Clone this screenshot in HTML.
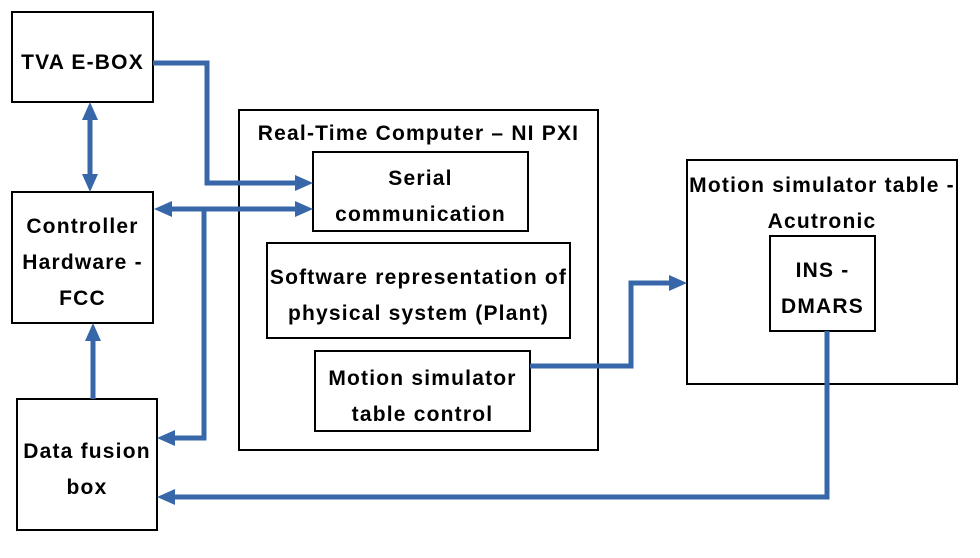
<!DOCTYPE html>
<html><head><style>
body{margin:0;background:#fff;width:980px;height:558px;position:relative;overflow:hidden;font-family:"Liberation Sans",Arial,sans-serif;font-weight:bold;font-size:21px;letter-spacing:1.2px;color:#000}
.b{position:absolute;border:2px solid #000;box-sizing:border-box;background:#fff;display:flex;align-items:center;justify-content:center;text-align:center;line-height:36px;padding-top:11px;white-space:nowrap}
svg{position:absolute;left:0;top:0}
</style></head><body>
<div class="b" style="left:11px;top:11px;width:143px;height:92px">TVA E-BOX</div>
<div class="b" style="left:11px;top:191px;width:143px;height:133px">Controller<br>Hardware -<br>FCC</div>
<div class="b" style="left:16px;top:398px;width:142px;height:133px">Data fusion<br>box</div>
<div class="b" style="left:238px;top:109px;width:361px;height:342px;align-items:flex-start;padding-top:3px;line-height:40px">Real-Time Computer – NI PXI</div>
<div class="b" style="left:312px;top:151px;width:217px;height:81px">Serial<br>communication</div>
<div class="b" style="left:266px;top:242px;width:305px;height:97px">Software representation of<br>physical system (Plant)</div>
<div class="b" style="left:314px;top:350px;width:217px;height:82px">Motion simulator<br>table control</div>
<div class="b" style="left:686px;top:159px;width:272px;height:226px;align-items:flex-start;padding-top:7px">Motion simulator table -<br>Acutronic</div>
<div class="b" style="left:769px;top:235px;width:107px;height:97px">INS -<br>DMARS</div>
<svg width="980" height="558">
<g fill="none" stroke="#3767a8" stroke-width="5">
<polyline points="153,63 207,63 207,183 296,183"/>
<line x1="170" y1="209" x2="296" y2="209"/>
<polyline points="204,209 204,438 174,438"/>
<line x1="90" y1="118" x2="90" y2="176"/>
<line x1="93" y1="399" x2="93" y2="340"/>
<polyline points="530,366 631,366 631,283 670,283"/>
<polyline points="827,331 827,497 174,497"/>
</g>
<g fill="#3767a8">
<polygon points="313,183 295,175 295,191"/>
<polygon points="313,209 295,201 295,217"/>
<polygon points="154,209 172,201 172,217"/>
<polygon points="157,438 175,430 175,446"/>
<polygon points="90,102 82,120 98,120"/>
<polygon points="90,192 82,174 98,174"/>
<polygon points="93,323 85,341 101,341"/>
<polygon points="687,283 669,275 669,291"/>
<polygon points="157,497 175,489 175,505"/>
</g>
</svg>
</body></html>
